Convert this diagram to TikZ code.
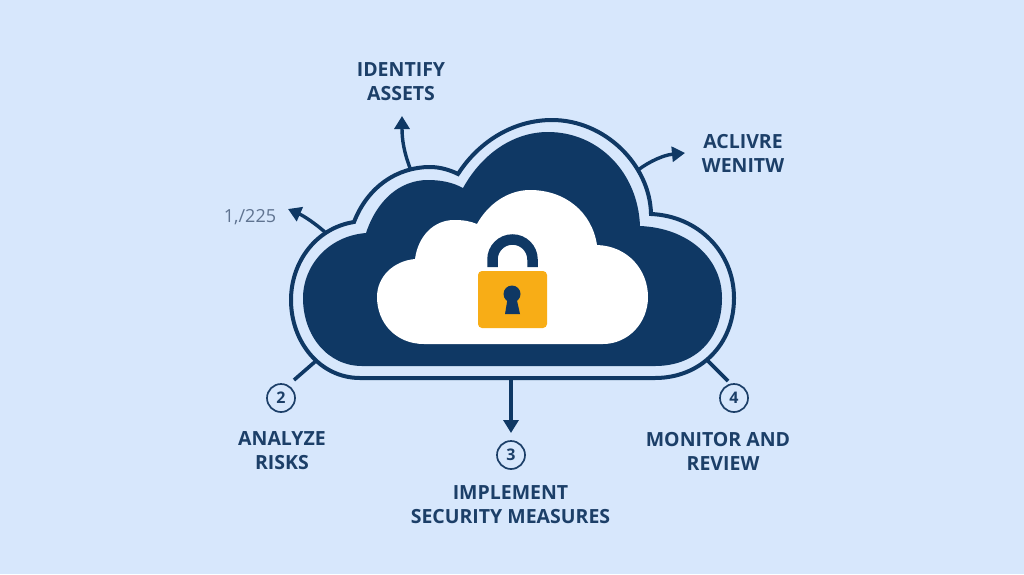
\documentclass[tikz,border=0pt]{standalone}
\usepackage{fontspec}
\setmainfont{Open Sans}
\usetikzlibrary{arrows.meta}
\definecolor{bgblue}{HTML}{D7E7FC}
\definecolor{navy}{HTML}{0F3864}
\definecolor{inktext}{HTML}{1C3F68}
\definecolor{amber}{HTML}{F8AD16}
\definecolor{garble}{HTML}{5F7390}
\tikzset{
  lbl/.style={text=inktext,font=\fontsize{19.5}{24}\selectfont\bfseries,align=center,inner sep=0pt},
  numring/.style={draw=inktext,line width=1.7pt,circle,minimum size=28pt,inner sep=0pt,text=inktext,font=\fontsize{16}{18}\selectfont\bfseries},
  flowarrow/.style={draw=navy,line width=3.4pt,-{Triangle[width=15pt,length=13pt]}},
  flowline/.style={draw=navy,line width=3.6pt},
}
\begin{document}
\begin{tikzpicture}[x=1pt,y=-1pt]
\useasboundingbox (0,0) rectangle (1024,574);
\fill[bgblue] (0,0) rectangle (1024,574);
% outer outline
\draw[navy,line width=4pt,line join=miter] (360,378)
  .. controls (320,378) and (291,342) .. (291,300)
  .. controls (291,262) and (316,228) .. (354,222)
  .. controls (368,186) and (398,167) .. (430,167)
  .. controls (440,167) and (450,170) .. (458,174)
  .. controls (480,140) and (515,120) .. (552,120)
  .. controls (605,120) and (650,165) .. (651,214)
  .. controls (698,216) and (734,252) .. (734,298)
  .. controls (734,345) and (700,378) .. (655,378)
  -- cycle;
% dark cloud
\fill[navy] (362,366)
  .. controls (328,366) and (303,336) .. (303,298)
  .. controls (303,266) and (328,236) .. (366,233)
  .. controls (377,200) and (400,180) .. (428,180)
  .. controls (440,180) and (452,182) .. (463,188)
  .. controls (483,152) and (515,132) .. (548,132)
  .. controls (598,132) and (638,172) .. (640,226)
  .. controls (688,228) and (722,258) .. (722,298)
  .. controls (722,340) and (695,366) .. (655,366)
  -- cycle;
% white cloud
\fill[white] (424,344)
  .. controls (396,344) and (377,323) .. (377,297)
  .. controls (377,277) and (393,261) .. (415,259)
  .. controls (418,236) and (434,220) .. (454,220)
  .. controls (463,220) and (470,221) .. (477,224)
  .. controls (488,204) and (508,190) .. (530,190)
  .. controls (565,190) and (592,212) .. (597,245)
  .. controls (628,246) and (648,270) .. (648,297)
  .. controls (648,323) and (628,344) .. (603,344)
  -- cycle;
% padlock
\draw[navy,line width=10.5pt] (492.5,267) -- (492.5,259.5) arc[start angle=180,end angle=360,radius=20] -- (532.5,267);
\fill[amber,rounded corners=4pt] (478,271) rectangle (547,328);
\fill[navy] (512,294) circle (8.5pt);
\fill[navy] (508,296) -- (516,296) -- (520,314) -- (505,314) -- cycle;
% labels
\node[lbl] (identify) at (401,82) {IDENTIFY\\ASSETS};
\node[lbl] (activew) at (743,153.5) {ACLIVRE\\WENITW};
\node[inner sep=0pt,text=garble,font=\fontsize{18}{20}\selectfont] (date) at (250,217) {1,/225};
\node[numring] (n2) at (281,398) {2};
\node[lbl] (analyze) at (282,451) {ANALYZE\\RISKS};
\node[numring] (n3) at (511,455) {3};
\node[lbl] (implement) at (510.5,504.5) {IMPLEMENT\\SECURITY MEASURES};
\node[numring] (n4) at (734,398) {4};
\node[lbl] (monitor) at (718,451) {MONITOR AND\\\hspace*{10pt}REVIEW};
% connector ends on the cloud
\coordinate (c1) at (410,168);
\coordinate (c1t) at (402,116);
\coordinate (c2) at (326,233);
\coordinate (c2t) at (288,209);
\coordinate (c3) at (638,170);
\coordinate (c3t) at (685,153);
\coordinate (c4) at (317,360);
\coordinate (c4e) at (294,380);
\coordinate (c5) at (511,378);
\coordinate (c5t) at (511,433);
\coordinate (c6) at (707,360);
\coordinate (c6e) at (728,381);
\draw[flowarrow] (c1) .. controls (404,152) and (402,140) .. (c1t);
\draw[flowarrow] (c2) .. controls (316,224) and (304,216) .. (c2t);
\draw[flowarrow] (c3) .. controls (650,161) and (664,155) .. (c3t);
\draw[flowline] (c4) -- (c4e);
\draw[flowarrow] (c5) -- (c5t);
\draw[flowline] (c6) -- (c6e);
\end{tikzpicture}
\end{document}
